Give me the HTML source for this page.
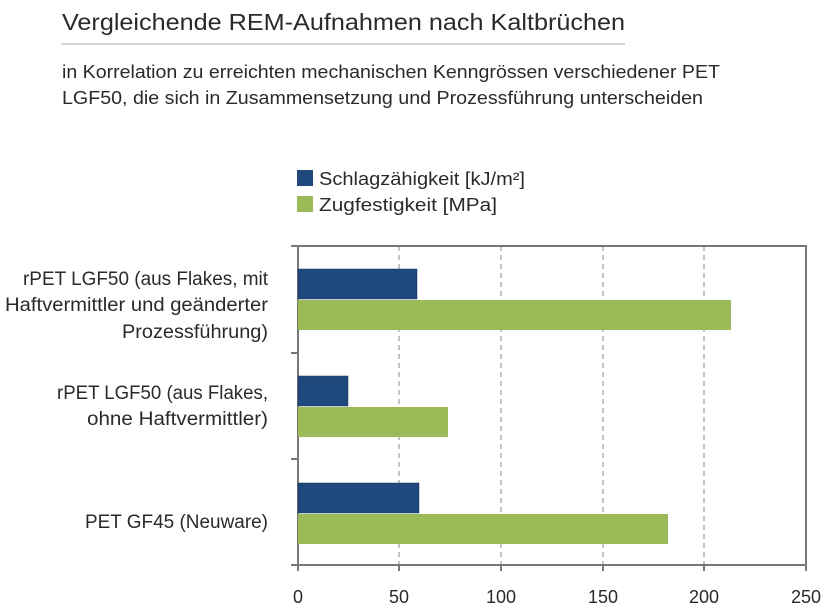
<!DOCTYPE html>
<html><head><meta charset="utf-8"><style>body{margin:0;background:#fff}svg{display:block}text{font-family:"Liberation Sans",sans-serif;fill:#2a2a2a}</style></head><body>
<svg width="828" height="609" viewBox="0 0 828 609">
<text x="62" y="30" font-size="23" textLength="563" lengthAdjust="spacingAndGlyphs" fill="#333">Vergleichende REM-Aufnahmen nach Kaltbrüchen</text>
<line x1="61" y1="44" x2="625" y2="44" stroke="#c8c8c8" stroke-width="1.5"/>
<text x="62" y="78" font-size="18" textLength="658" lengthAdjust="spacingAndGlyphs">in Korrelation zu erreichten mechanischen Kenngrössen verschiedener PET</text>
<text x="62" y="104" font-size="18" textLength="641" lengthAdjust="spacingAndGlyphs">LGF50, die sich in Zusammensetzung und Prozessführung unterscheiden</text>
<rect x="297" y="170" width="16" height="16" fill="#1f497d"/>
<rect x="297" y="196" width="16" height="16" fill="#9bbb59"/>
<text x="319" y="185" font-size="18" textLength="206" lengthAdjust="spacingAndGlyphs">Schlagzähigkeit [kJ/m²]</text>
<text x="319" y="211" font-size="18" textLength="178" lengthAdjust="spacingAndGlyphs">Zugfestigkeit [MPa]</text>
<g stroke="#888" stroke-dasharray="5,4" stroke-width="1">
<line x1="399" y1="246" x2="399" y2="565"/><line x1="501" y1="246" x2="501" y2="565"/><line x1="603" y1="246" x2="603" y2="565"/><line x1="704" y1="246" x2="704" y2="565"/>
</g>
<g stroke="#777" stroke-width="2" fill="none">
<path d="M291 246H806V565"/>
<line x1="298" y1="246" x2="298" y2="571"/>
<line x1="291" y1="565" x2="806" y2="565"/>
<line x1="291" y1="353" x2="298" y2="353"/><line x1="291" y1="459" x2="298" y2="459"/>
<line x1="399" y1="565" x2="399" y2="571"/><line x1="501" y1="565" x2="501" y2="571"/><line x1="603" y1="565" x2="603" y2="571"/><line x1="704" y1="565" x2="704" y2="571"/><line x1="806" y1="565" x2="806" y2="571"/>
</g>
<g fill="#1f497d" stroke="#17375e" stroke-width="0.5">
<rect x="298" y="269" width="119" height="30"/>
<rect x="298" y="376" width="50" height="30"/>
<rect x="298" y="483" width="121" height="30"/>
</g>
<g fill="#9bbb59">
<rect x="298" y="300" width="433" height="30"/>
<rect x="298" y="407" width="150" height="30"/>
<rect x="298" y="514" width="370" height="30"/>
</g>
<g font-size="19" lengthAdjust="spacingAndGlyphs">
<text x="23" y="285" textLength="245" lengthAdjust="spacingAndGlyphs">rPET LGF50 (aus Flakes, mit</text>
<text x="5" y="311" textLength="263" lengthAdjust="spacingAndGlyphs">Haftvermittler und geänderter</text>
<text x="122" y="338" textLength="146" lengthAdjust="spacingAndGlyphs">Prozessführung)</text>
<text x="57" y="399" textLength="211" lengthAdjust="spacingAndGlyphs">rPET LGF50 (aus Flakes,</text>
<text x="87" y="425" textLength="181" lengthAdjust="spacingAndGlyphs">ohne Haftvermittler)</text>
<text x="85" y="528" textLength="183" lengthAdjust="spacingAndGlyphs">PET GF45 (Neuware)</text>
</g>
<g font-size="18" text-anchor="middle">
<text x="298" y="603">0</text><text x="399" y="603">50</text><text x="501" y="603">100</text><text x="603" y="603">150</text><text x="704" y="603">200</text><text x="806" y="603">250</text>
</g>
</svg>
</body></html>
